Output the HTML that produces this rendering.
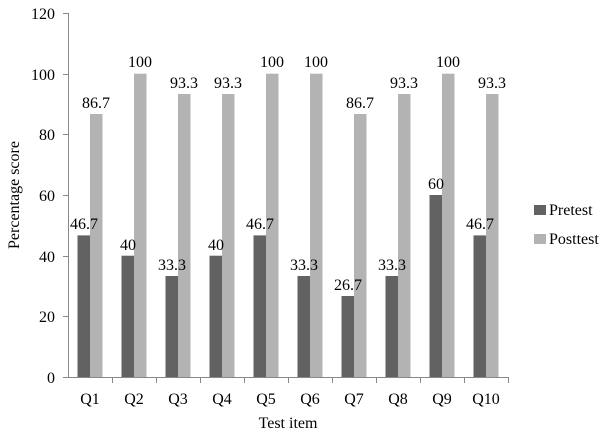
<!DOCTYPE html><html><head><style>body{margin:0;background:#fff}</style></head><body>
<svg width="608" height="435" xmlns="http://www.w3.org/2000/svg" font-family="Liberation Serif, serif" font-size="16" fill="#000">
<g stroke="#888" stroke-width="1">
<line x1="68.5" y1="13" x2="68.5" y2="378"/>
<line x1="68" y1="377.5" x2="508" y2="377.5"/>
<line x1="63" y1="13.5" x2="68" y2="13.5"/><line x1="63" y1="74.5" x2="68" y2="74.5"/><line x1="63" y1="134.5" x2="68" y2="134.5"/><line x1="63" y1="195.5" x2="68" y2="195.5"/><line x1="63" y1="256.5" x2="68" y2="256.5"/><line x1="63" y1="316.5" x2="68" y2="316.5"/><line x1="63" y1="377.5" x2="68" y2="377.5"/>
<line x1="112.5" y1="377" x2="112.5" y2="383"/><line x1="156.5" y1="377" x2="156.5" y2="383"/><line x1="200.5" y1="377" x2="200.5" y2="383"/><line x1="244.5" y1="377" x2="244.5" y2="383"/><line x1="288.5" y1="377" x2="288.5" y2="383"/><line x1="332.5" y1="377" x2="332.5" y2="383"/><line x1="376.5" y1="377" x2="376.5" y2="383"/><line x1="420.5" y1="377" x2="420.5" y2="383"/><line x1="464.5" y1="377" x2="464.5" y2="383"/><line x1="508.5" y1="377" x2="508.5" y2="383"/>
</g>
<g text-anchor="end"><text x="55" y="19">120</text><text x="55" y="80">100</text><text x="55" y="140">80</text><text x="55" y="201">60</text><text x="55" y="262">40</text><text x="55" y="322">20</text><text x="55" y="383">0</text></g>
<text transform="translate(19,195) rotate(-90)" text-anchor="middle">Percentage score</text>
<text x="288" y="428" text-anchor="middle">Test item</text>
<g fill="#626262">
<rect x="77.5" y="235.4" width="12.5" height="141.6"/>
<rect x="121.5" y="255.7" width="12.5" height="121.3"/>
<rect x="165.5" y="276" width="12.5" height="101"/>
<rect x="209.5" y="255.7" width="12.5" height="121.3"/>
<rect x="253.5" y="235.4" width="12.5" height="141.6"/>
<rect x="297.5" y="276" width="12.5" height="101"/>
<rect x="341.5" y="296" width="12.5" height="81"/>
<rect x="385.5" y="276" width="12.5" height="101"/>
<rect x="429.5" y="195" width="12.5" height="182"/>
<rect x="473.5" y="235.4" width="12.5" height="141.6"/>
</g>
<g fill="#b3b3b3">
<rect x="90" y="114" width="12.5" height="263"/>
<rect x="134" y="73.7" width="12.5" height="303.3"/>
<rect x="178" y="94" width="12.5" height="283"/>
<rect x="222" y="94" width="12.5" height="283"/>
<rect x="266" y="73.7" width="12.5" height="303.3"/>
<rect x="310" y="73.7" width="12.5" height="303.3"/>
<rect x="354" y="114" width="12.5" height="263"/>
<rect x="398" y="94" width="12.5" height="283"/>
<rect x="442" y="73.7" width="12.5" height="303.3"/>
<rect x="486" y="94" width="12.5" height="283"/>
</g>
<g text-anchor="middle">
<text x="84" y="229">46.7</text><text x="96" y="108">86.7</text>
<text x="128" y="250">40</text><text x="140" y="67">100</text>
<text x="172" y="270">33.3</text><text x="184" y="88">93.3</text>
<text x="216" y="250">40</text><text x="228" y="88">93.3</text>
<text x="260" y="229">46.7</text><text x="272" y="67">100</text>
<text x="304" y="270">33.3</text><text x="316" y="67">100</text>
<text x="348" y="290">26.7</text><text x="360" y="108">86.7</text>
<text x="392" y="270">33.3</text><text x="404" y="88">93.3</text>
<text x="436" y="189">60</text><text x="448" y="67">100</text>
<text x="480" y="229">46.7</text><text x="492" y="88">93.3</text>
<text x="90" y="404">Q1</text><text x="134" y="404">Q2</text><text x="178" y="404">Q3</text><text x="222" y="404">Q4</text><text x="266" y="404">Q5</text><text x="310" y="404">Q6</text><text x="354" y="404">Q7</text><text x="398" y="404">Q8</text><text x="442" y="404">Q9</text><text x="486" y="404">Q10</text>
</g>
<rect x="534" y="205" width="12" height="10" fill="#626262"/><text x="549" y="215">Pretest</text>
<rect x="534" y="234" width="12" height="10" fill="#b3b3b3"/><text x="549" y="244">Posttest</text>
</svg></body></html>
